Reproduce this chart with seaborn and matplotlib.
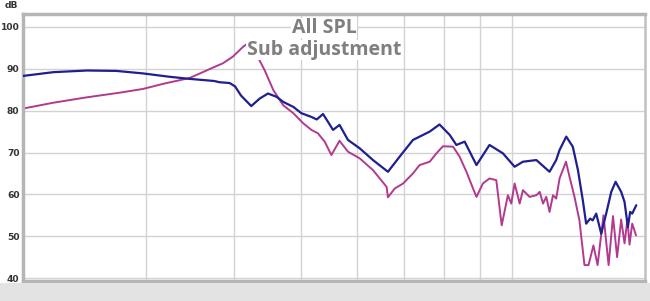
import matplotlib
matplotlib.use("Agg")
import matplotlib.pyplot as plt
import seaborn as sns
import pandas as pd
from matplotlib.patches import Rectangle

# ---- data (frequency in Hz, level in dB) ----
all_freq = [20.0, 22.1, 24.7, 27.2, 29.7, 32.4, 34.6, 37.5, 38.2, 39.5, 40.2, 41.0,
            42.4, 43.6, 44.8, 46.1, 47.1, 48.7, 50.0, 51.7, 52.6, 53.7, 54.6, 55.5,
            56.7, 58.3, 60.6, 63.3, 66.5, 69.1, 72.2, 76.3, 78.8, 81.5, 83.3, 85.6,
            89.0, 92.9, 97.1, 100.9, 103.7, 108.4, 113.2, 115.7, 117.0, 119.6, 122.2,
            124.3, 126.3, 127.7, 129.4, 130.5, 132.0, 134.2, 136.4, 138.7, 140.7,
            143.3, 144.9, 146.5, 147.6, 148.6, 150.6]
all_db = [88.3, 89.2, 89.6, 89.5, 88.9, 88.1, 87.6, 87.1, 86.8, 86.6, 85.8, 83.6,
          81.1, 82.9, 84.1, 83.3, 82.1, 80.9, 79.4, 78.5, 77.9, 79.2, 77.3, 75.4,
          76.6, 73.0, 71.0, 68.2, 65.4, 69.0, 73.0, 75.0, 76.7, 74.2, 71.8, 72.6,
          67.0, 71.8, 69.8, 66.6, 67.8, 68.2, 65.4, 68.2, 70.6, 73.8, 71.4,
          65.8, 58.6, 53.0, 54.2, 53.8, 55.4, 50.6, 55.4, 60.6, 63.0,
          60.6, 58.2, 52.2, 55.8, 55.4, 57.4]

sub_freq = [20.0, 22.1, 24.7, 27.5, 29.7, 31.7, 34.6, 36.6, 37.5, 38.6, 39.9, 41.3,
            42.0, 43.3, 44.3, 45.6, 47.1, 48.7, 50.3, 51.7, 52.8, 54.0, 55.2, 56.7,
            58.3, 60.6, 63.3, 66.2, 66.5, 68.0, 69.9, 72.2, 73.8, 76.3, 78.0, 79.7,
            82.4, 84.2, 86.1, 88.0, 89.0, 90.9, 92.9, 95.0, 96.7, 98.7, 99.8, 100.9,
            102.6, 103.7, 106.0, 108.4, 109.6, 110.8, 112.0, 113.2, 114.5, 115.7,
            117.0, 119.5, 120.9, 122.9, 124.9, 127.0, 128.7, 130.8, 132.6, 135.2,
            137.5, 139.5, 141.4, 143.3, 144.9, 146.3, 147.3, 148.6, 150.5]
sub_db = [80.5, 81.9, 83.2, 84.3, 85.2, 86.4, 87.8, 89.6, 90.4, 91.3, 92.9, 95.3,
          96.2, 92.9, 89.7, 84.9, 81.3, 79.4, 77.0, 75.4, 74.6, 72.6, 69.4, 72.8,
          70.2, 68.6, 65.8, 61.8, 59.3, 61.4, 62.6, 65.0, 67.0, 67.8, 69.8, 71.5,
          71.4, 69.0, 65.4, 61.4, 59.4, 62.6, 63.8, 63.4, 52.6, 59.8, 57.8, 62.6,
          57.8, 61.0, 59.4, 59.8, 60.6, 57.8, 59.4, 55.8, 59.8, 59.0,
          63.8, 67.8, 64.2, 59.4, 53.8, 43.1, 43.1, 47.8, 43.1, 55.0,
          43.1, 54.8, 45.0, 54.0, 48.3, 54.0, 48.0, 53.0, 50.2]

x_ticks = [20, 30, 40, 50, 60, 70, 80, 90, 100]
y_ticks = [40, 50, 60, 70, 80, 90, 100]
title_lines = ["All SPL", "Sub adjustment"]
y_unit = "dB"

df_all = pd.DataFrame({"freq": all_freq, "db": all_db})
df_sub = pd.DataFrame({"freq": sub_freq, "db": sub_db})

sns.set_style("white")
plt.rcParams["font.family"] = ["DejaVu Sans"]

fig = plt.figure(figsize=(6.5, 3.01), dpi=100)
fig.patch.set_facecolor("white")
# grey band under the plot
fig.patches.append(Rectangle((0, 0), 1, 18 / 301, transform=fig.transFigure,
                             facecolor="#e3e3e3", edgecolor="none", zorder=0))

ax = fig.add_axes([23 / 650, 1 - 281 / 301, (645 - 23) / 650, (281 - 14) / 301])
ax.set_facecolor("white")

sns.lineplot(data=df_all, x="freq", y="db", ax=ax, color="#1f1f8f",
             linewidth=1.6, estimator=None, sort=False, zorder=3)
sns.lineplot(data=df_sub, x="freq", y="db", ax=ax, color="#b23a8e",
             linewidth=1.4, estimator=None, sort=False, zorder=2)

ax.set_xscale("log")
ax.set_xlim(20, 155)
ax.set_ylim(39.3, 103.1)
ax.set_xticks(x_ticks)
ax.set_xticklabels([str(t) for t in x_ticks])
ax.minorticks_off()
ax.set_yticks(y_ticks)
ax.set_yticklabels([str(t) for t in y_ticks])
ax.set_xlabel("")
ax.set_ylabel("")
ax.grid(True, color="#d2d2d2", linewidth=1.0)
ax.set_axisbelow(True)
ax.tick_params(axis="both", length=0, labelsize=6.6, colors="#333333")
ax.tick_params(axis="x", pad=5)
ax.tick_params(axis="y", pad=2.5)
for lbl in ax.get_xticklabels() + ax.get_yticklabels():
    lbl.set_fontweight("bold")

for side in ["left", "bottom", "top"]:
    ax.spines[side].set_color("#b5b5b5")
    ax.spines[side].set_linewidth(2.5)
ax.spines["right"].set_color("#c0c0c0")
ax.spines["right"].set_linewidth(1.8)

fig.text(5 / 650, 1 - 6 / 301, y_unit, fontsize=6.6, color="#333333",
         fontweight="bold", ha="left", va="center")

title_x = (324 - 23) / 622
ax.text(title_x, 1 - (28 - 14) / 267, title_lines[0], transform=ax.transAxes,
        ha="center", va="center", fontsize=14, fontweight="bold",
        color="#7f7f7f", family="Open Sans",
        bbox=dict(facecolor="white", edgecolor="none", pad=0.3), zorder=5)
ax.text(title_x, 1 - (50 - 14) / 267, title_lines[1], transform=ax.transAxes,
        ha="center", va="center", fontsize=14, fontweight="bold",
        color="#7f7f7f", family="Open Sans",
        bbox=dict(facecolor="white", edgecolor="none", pad=0.3), zorder=5)

fig.savefig("out.png", dpi=100)
